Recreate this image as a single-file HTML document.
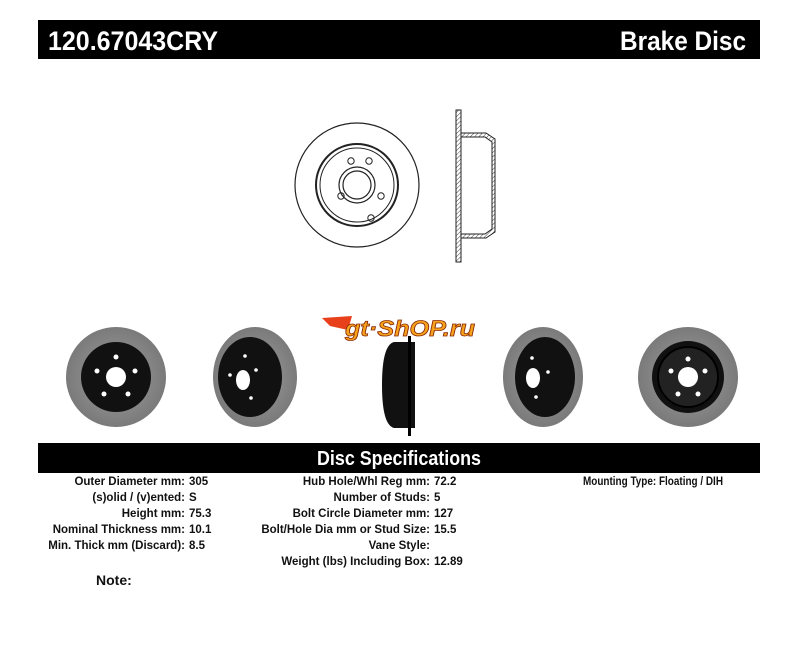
<!DOCTYPE html>
<html><head><style>
html,body{margin:0;padding:0;background:#fff;}
svg{display:block;}
text{font-family:"Liberation Sans Narrow","Liberation Sans",sans-serif;font-weight:bold;}
</style></head><body>
<svg width="800" height="655" viewBox="0 0 800 655" xmlns="http://www.w3.org/2000/svg">
<defs>
<pattern id="h" width="3" height="3" patternUnits="userSpaceOnUse" patternTransform="rotate(45)"><line x1="0" y1="0" x2="0" y2="3" stroke="#444" stroke-width="1"/></pattern>
<radialGradient id="g1"><stop offset="0" stop-color="#a0a0a0"/><stop offset="1" stop-color="#7a7a7a"/></radialGradient>
</defs>
<rect x="38" y="20" width="722" height="39" fill="#000"/>
<text x="48" y="50" font-size="27" fill="#fff" textLength="170" lengthAdjust="spacingAndGlyphs">120.67043CRY</text>
<text x="620" y="50" font-size="27" fill="#fff" textLength="126" lengthAdjust="spacingAndGlyphs">Brake Disc</text>

<g fill="none" stroke="#222">
<circle cx="357" cy="185" r="62" stroke-width="1.2"/>
<circle cx="357" cy="185" r="41" stroke-width="2"/>
<circle cx="357" cy="185" r="37" stroke-width="1"/>
<circle cx="357" cy="185" r="18" stroke-width="1.2"/>
<circle cx="357" cy="185" r="14" stroke-width="1.2"/>
<circle cx="351" cy="161" r="3.2"/><circle cx="369" cy="161" r="3.2"/>
<circle cx="341" cy="196" r="3.2"/><circle cx="381" cy="196" r="3.2"/>
<circle cx="371" cy="218" r="3.2"/>
</g>
<g stroke="#222" stroke-width="1">
<rect x="456" y="110" width="5" height="152" fill="url(#h)"/>
<path d="M461 133 L486 133 L495 139 L495 232 L486 238 L461 238 L461 234 L485 234 L492 229 L492 142 L485 137 L461 137 Z" fill="url(#h)"/>
</g>

<g>
<path d="M322 318 L352 316 L348 330 L330 326 Z" fill="#e8401a"/>
<text x="345" y="336" font-size="22" fill="#f7a21b" stroke="#8a2a08" stroke-width="0.8" font-style="italic" textLength="130" lengthAdjust="spacingAndGlyphs">gt·ShOP.ru</text>
</g>

<circle cx="116" cy="377" r="50" fill="url(#g1)"/>
<circle cx="116" cy="377" r="35" fill="#111"/>
<circle cx="116" cy="377" r="10" fill="#fff"/>
<g fill="#fff"><circle cx="116" cy="357" r="2.5"/><circle cx="97" cy="371" r="2.5"/><circle cx="135" cy="371" r="2.5"/><circle cx="104" cy="394" r="2.5"/><circle cx="128" cy="394" r="2.5"/></g>

<ellipse cx="255" cy="377" rx="42" ry="50" fill="url(#g1)"/>
<ellipse cx="250" cy="377" rx="32" ry="40" fill="#111"/>
<ellipse cx="243" cy="380" rx="7" ry="10" fill="#fff"/>
<g fill="#fff"><circle cx="245" cy="356" r="1.8"/><circle cx="230" cy="375" r="1.8"/><circle cx="256" cy="370" r="1.8"/><circle cx="251" cy="398" r="1.8"/></g>

<path d="M394 342 Q382 345 382 385 Q382 425 394 428 L415 428 L415 342 Z" fill="#111"/>
<rect x="408" y="336" width="3" height="100" fill="#000"/>

<ellipse cx="543" cy="377" rx="40" ry="50" fill="url(#g1)"/>
<ellipse cx="545" cy="377" rx="30" ry="40" fill="#111"/>
<ellipse cx="533" cy="378" rx="7" ry="10" fill="#fff"/>
<g fill="#fff"><circle cx="532" cy="358" r="1.8"/><circle cx="548" cy="372" r="1.8"/><circle cx="536" cy="397" r="1.8"/></g>

<circle cx="688" cy="377" r="50" fill="url(#g1)"/>
<circle cx="688" cy="377" r="36" fill="#111"/>
<circle cx="688" cy="377" r="30" fill="#222" stroke="#000" stroke-width="2"/>
<circle cx="688" cy="377" r="10" fill="#fff"/>
<g fill="#fff"><circle cx="688" cy="359" r="2.5"/><circle cx="671" cy="371" r="2.5"/><circle cx="705" cy="371" r="2.5"/><circle cx="678" cy="394" r="2.5"/><circle cx="698" cy="394" r="2.5"/></g>

<rect x="38" y="443" width="722" height="30" fill="#000"/>
<text x="317" y="465" font-size="20" fill="#fff" textLength="164" lengthAdjust="spacingAndGlyphs">Disc Specifications</text>

<g font-size="11.5" fill="#111">
<g text-anchor="end">
<text x="185" y="485">Outer Diameter mm:</text>
<text x="185" y="501">(s)olid / (v)ented:</text>
<text x="185" y="517">Height mm:</text>
<text x="185" y="533">Nominal Thickness mm:</text>
<text x="185" y="549">Min. Thick mm (Discard):</text>
<text x="430" y="485">Hub Hole/Whl Reg mm:</text>
<text x="430" y="501">Number of Studs:</text>
<text x="430" y="517">Bolt Circle Diameter mm:</text>
<text x="430" y="533">Bolt/Hole Dia mm or Stud Size:</text>
<text x="430" y="549">Vane Style:</text>
<text x="430" y="565">Weight (lbs) Including Box:</text>
</g>
<text x="189" y="485">305</text>
<text x="189" y="501">S</text>
<text x="189" y="517">75.3</text>
<text x="189" y="533">10.1</text>
<text x="189" y="549">8.5</text>
<text x="434" y="485">72.2</text>
<text x="434" y="501">5</text>
<text x="434" y="517">127</text>
<text x="434" y="533">15.5</text>
<text x="434" y="565">12.89</text>
<text x="583" y="485" textLength="140" lengthAdjust="spacingAndGlyphs">Mounting Type: Floating / DIH</text>
</g>
<text x="96" y="585" font-size="14" fill="#111">Note:</text>
</svg>
</body></html>
